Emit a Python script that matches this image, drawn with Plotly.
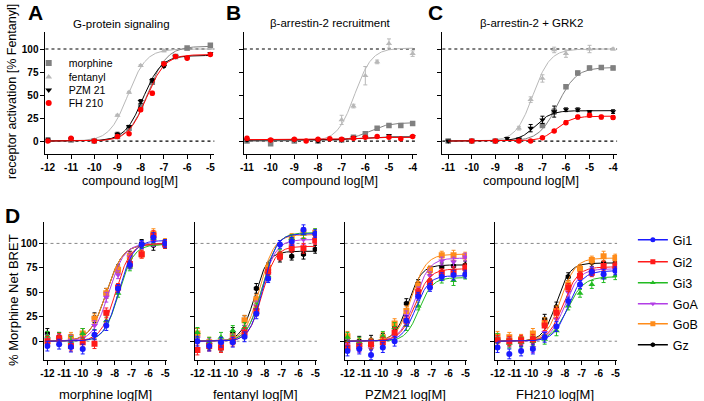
import numpy as np
import plotly.graph_objects as go

FONT = "Liberation Sans, Arial, sans-serif"
W, H = 704, 401

# ---------------- Top row: compounds ----------------
COMPOUNDS = ["morphine", "fentanyl", "PZM 21", "FH 210"]
COMP_COLORS = {"morphine": "#808080", "fentanyl": "#b8b8b8", "PZM 21": "#000000", "FH 210": "#ff0000"}
COMP_SYMBOLS = {"morphine": "square", "fentanyl": "triangle-up", "PZM 21": "triangle-down", "FH 210": "circle"}
DRAW_ORDER = ["fentanyl", "morphine", "PZM 21", "FH 210"]

# Panel A: G-protein signaling  (x, y, err)
A_MORPHINE = ([-12, -11, -10, -9, -8.5, -8, -7.5, -7, -6.5, -6, -5],
              [1, 1, 0, 5, 14, 38, 64, 84, 92, 101, 104],
              [1, 1, 1, 1, 1, 2, 2, 2, 1, 1, 1])
A_FENTANYL = ([-12, -11, -10, -9, -8.5, -8, -7, -6, -5],
              [0, 1, 1, 28, 53, 82, 98, 100, 101],
              [1, 1, 1, 1, 1, 1, 1, 1, 1])
A_PZM21 = ([-12, -11, -10, -9, -8.5, -8, -7.5, -7, -6.5, -6, -5],
           [1, 2, 0, 7.5, 16, 43, 66, 81, 92, 90, 95],
           [2, 1, 1, 2, 1, 2, 2, 1, 1, 1, 1])
A_FH210 = ([-12, -11, -10, -9, -8.5, -8, -7.5, -7, -6.5, -6, -5],
           [0, 3, 0, 5, 8, 34, 52, 84, 92, 90, 94],
           [1, 1, 1, 1, 1, 2, 2, 1, 1, 1, 1])
# fit parameters: bottom, top, logEC50, hill
A_FIT = {"morphine": (0, 103, -7.7, 1.05), "fentanyl": (0, 100, -8.55, 1.1),
         "PZM 21": (0, 93, -7.9, 1.1), "FH 210": (0, 94, -7.75, 1.1)}

# Panel B: beta-arrestin-2 recruitment
B_MORPHINE = ([-11, -10, -9, -8, -7, -6.5, -6, -5.5, -5, -4.5, -4],
              [0, -3, 0, 0, 1, 4, 8, 14, 17, 17, 19],
              [1, 1, 1, 1, 1, 1, 1, 1, 1, 1, 1])
B_FENTANYL = ([-11, -10, -9, -8, -7, -6.5, -6, -5.5, -5, -4],
              [2, 0, 1, 2, 23, 38, 71, 86, 106, 95],
              [2, 1, 1, 1, 5, 2, 10, 2, 5, 3])
B_PZM21 = ([-11, -10, -9, -8, -7, -6.5, -6, -5, -4],
           [1, 1, 1, 0, 1, 4, 4, 6, 5],
           [1, 1, 1, 1, 1, 1, 1, 1, 1])
B_FH210 = ([-11, -10, -9, -8.5, -8, -7.5, -7, -6.5, -6, -5.5, -5, -4.5, -4],
           [3, 1, 2, 0, 2, 2.5, 2, 3, 4, 5, 4, 2.5, 5],
           [2, 1, 1, 1, 1, 1, 1, 1, 1, 1, 1, 1, 1])
B_FIT = {"morphine": (0, 20, -5.9, 1.0), "fentanyl": (0, 101, -6.45, 1.2),
         "PZM 21": (1, 4.5, -6.5, 1.0), "FH 210": (1.5, 4, -6.5, 1.0)}

# Panel C: beta-arrestin-2 + GRK2
C_MORPHINE = ([-11, -10, -9, -8, -7, -6.5, -6, -5.5, -5, -4.5, -4],
              [0, 0, 0, 1, 17, 32, 59, 74, 79.5, 80, 79.5],
              [1, 1, 1, 1, 2, 3, 2, 2, 2, 2, 2])
C_FENTANYL = ([-11, -10, -9, -8, -7.5, -7, -6.5, -6, -5, -4],
              [0, 0, 0, 14, 45, 68, 99, 95, 100, 100],
              [1, 1, 1, 2, 3, 4, 3, 4, 4, 1])
C_PZM21 = ([-11, -10, -9, -8.5, -8, -7.5, -7, -6.5, -6, -5.5, -5, -4],
           [0, 0, 0, 3, 2, 14, 23, 32, 34, 34, 32, 32],
           [1, 1, 1, 1, 1, 4, 4, 6, 2, 2, 1, 2])
C_FH210 = ([-10, -9, -8, -7.5, -7, -6.5, -6, -5.5, -5, -4.5, -4],
           [0, 0, 0, 0, 3.5, 11, 20, 26, 28, 26, 25.5],
           [1, 1, 1, 1, 1, 1, 2, 2, 2, 2, 2])
C_FIT = {"morphine": (0, 80, -6.35, 1.1), "fentanyl": (0, 100, -7.4, 1.2),
         "PZM 21": (0, 33, -7.3, 1.3), "FH 210": (0, 27, -6.4, 1.3)}

TOP_TICKS_A = [-12, -11, -10, -9, -8, -7, -6, -5]
TOP_TICKS_BC = [-11, -10, -9, -8, -7, -6, -5, -4]
TOP_YTICKS = [0, 25, 50, 75, 100]

# ---------------- Bottom row: G proteins ----------------
GPROT = ["Gi1", "Gi2", "Gi3", "GoA", "GoB", "Gz"]
GP_COLORS = {"Gi1": "#1a1aff", "Gi2": "#ff1a1a", "Gi3": "#22bb22", "GoA": "#b23ee6", "GoB": "#ff8c1a", "Gz": "#000000"}
GP_SYMBOLS = {"Gi1": "circle", "Gi2": "square", "Gi3": "triangle-up", "GoA": "triangle-down", "GoB": "square", "Gz": "hexagon"}
D_X = [-12, -11.3, -10.6, -9.9, -9.2, -8.5, -7.8, -7.1, -6.4, -5.7, -5]
D_XTICKS = [-12, -11, -10, -9, -8, -7, -6, -5]

D_MORPHINE = {"Gi1": [-5, -3, -6, -8, 6.5, 16, 54, 78, 99, 106, 100],
              "Gi2": [0, 3, -5, -1, -2.5, 29, 55, 79, 89, 108, 99],
              "Gi3": [5, 4, 0, 8, 7, 21, 49, 76, 99, 105, 100],
              "GoA": [2, 2, 1, 3, 16, 45, 68, 86, 98, 102, 100],
              "GoB": [0, 2, 4, 8, 23, 49, 73, 87, 89, 110, 101],
              "Gz": [8, 4, 2, 8, 24, 49, 74, 88, 100, 98, 99]}
D_MORPHINE_FIT = {"Gi1": (0, 103, -7.75, 1.0), "Gi2": (0, 100, -7.95, 1.0), "Gi3": (0, 99, -7.75, 1.0),
                  "GoA": (0, 100, -8.35, 0.95), "GoB": (0, 99, -8.5, 0.9), "Gz": (0, 99, -8.5, 0.9)}

D_FENTANYL = {"Gi1": [0, -5, -1, -1, 4.5, 28, 64, 99, 102, 114, 110],
              "Gi2": [-9, -5, -6.5, 0, 9, 31, 71, 87, 95, 95, 103],
              "Gi3": [9, -1, 4, 11, 14, 34, 67, 90, 105, 110, 111],
              "GoA": [3, -2, -3, 2, 11, 36, 69, 88, 98, 104, 104],
              "GoB": [8, -1, -1, 5, 21.5, 43, 75, 88, 106, 111, 111],
              "Gz": [8, -4, -5, 9, 21, 54, 76, 85, 87, 89, 94]}
D_FENTANYL_FIT = {"Gi1": (0, 110, -8.1, 1.1), "Gi2": (0, 97, -8.15, 1.1), "Gi3": (0, 111, -8.15, 1.0),
                  "GoA": (0, 104, -8.2, 1.0), "GoB": (0, 109, -8.3, 1.0), "Gz": (0, 92, -8.6, 1.1)}

D_PZM21 = {"Gi1": [-10, -8, -14, -6.5, 0, 21, 46, 55, 66, 67.6, 68.6],
           "Gi2": [-6.5, -5, -3, -1, 9, 21, 50, 60, 70, 71, 75],
           "Gi3": [4, -1, -3, 5, 14, 16, 36, 59, 63.5, 62, 67.6],
           "GoA": [-3, -6.5, -8, -1, 5, 26, 51.5, 67, 82, 81, 86],
           "GoB": [5, -2, -2, 4, 18, 31, 57, 73, 88, 88, 87],
           "Gz": [0, 0, 1, 3, 14, 38.5, 59, 72, 76, 77, 78]}
D_PZM21_FIT = {"Gi1": (0, 67, -7.95, 1.1), "Gi2": (0, 74, -8.0, 1.0), "Gi3": (0, 65, -7.75, 1.1),
               "GoA": (0, 85, -8.0, 1.0), "GoB": (0, 89, -8.2, 1.0), "Gz": (0, 78, -8.4, 1.1)}

D_FH210 = {"Gi1": [-6.5, -13, -10, -8, 4, 15, 41, 58, 71, 68.6, 72],
           "Gi2": [1, 0, 1, 2, 16, 29, 55, 67, 70, 77, 77],
           "Gi3": [3, -2, -1, 0, 2, 10.6, 36, 49, 58, 65, 67],
           "GoA": [0, -1, -3, -6.5, 9, 22.5, 50, 63, 72, 73, 74],
           "GoB": [5, 4, 2, 8, 19, 31, 58, 74, 83, 87, 85],
           "Gz": [0, 1, 0, 0, 22.5, 35, 66, 74, 80.5, 80, 80]}
D_FH210_FIT = {"Gi1": (0, 72, -7.8, 1.0), "Gi2": (0, 76, -8.1, 1.0), "Gi3": (0, 66, -7.85, 0.9),
               "GoA": (0, 74, -8.0, 1.0), "GoB": (0, 85, -8.25, 1.0), "Gz": (0, 80, -8.5, 1.1)}

D_ERR = [5, 5, 5, 5, 5, 5, 4, 4, 4, 5, 4]

# ---------------- helpers ----------------
def hill(x, fit):
    b, t, ec, h = fit
    return b + (t - b) / (1 + 10 ** ((ec - x) * h))


def px_x(p):
    return p / W


def px_y(p):
    return 1 - p / H


fig = go.Figure()


def add_set(xa, ya, x, y, err, color, symbol, size, fit, xr):
    xc = np.linspace(xr[0], xr[1], 300)
    fig.add_trace(go.Scatter(x=xc, y=hill(xc, fit), mode="lines", xaxis=xa, yaxis=ya,
                             line=dict(color=color, width=1), showlegend=False, hoverinfo="skip"))
    fig.add_trace(go.Scatter(x=x, y=y, mode="markers", xaxis=xa, yaxis=ya,
                             marker=dict(color=color, symbol=symbol, size=size, line=dict(width=0)),
                             error_y=dict(type="data", array=err, color=color, thickness=1, width=2),
                             showlegend=False))


top_panels = [("x", "y", {"morphine": A_MORPHINE, "fentanyl": A_FENTANYL, "PZM 21": A_PZM21, "FH 210": A_FH210}, A_FIT, (-12, -5)),
              ("x2", "y2", {"morphine": B_MORPHINE, "fentanyl": B_FENTANYL, "PZM 21": B_PZM21, "FH 210": B_FH210}, B_FIT, (-11, -4)),
              ("x3", "y3", {"morphine": C_MORPHINE, "fentanyl": C_FENTANYL, "PZM 21": C_PZM21, "FH 210": C_FH210}, C_FIT, (-11, -4))]

for xa, ya, data, fits, xr in top_panels:
    for comp in DRAW_ORDER:
        xs, ys, es = data[comp]
        add_set(xa, ya, xs, ys, es, COMP_COLORS[comp], COMP_SYMBOLS[comp], 5.5, fits[comp], xr)

bottom_panels = [("x4", "y4", D_MORPHINE, D_MORPHINE_FIT),
                 ("x5", "y5", D_FENTANYL, D_FENTANYL_FIT),
                 ("x6", "y6", D_PZM21, D_PZM21_FIT),
                 ("x7", "y7", D_FH210, D_FH210_FIT)]
for xa, ya, data, fits in bottom_panels:
    for gp in reversed(GPROT):
        add_set(xa, ya, D_X, data[gp], D_ERR, GP_COLORS[gp], GP_SYMBOLS[gp], 6, fits[gp], (-12, -5))

# legend entries
A_LEG_Y = [63, 77, 90, 103]
for i, comp in enumerate(COMPOUNDS):
    fig.add_trace(go.Scatter(x=[None], y=[None], mode="markers", name=comp,
                             legend="legend" if i == 0 else f"legend{i + 1}",
                             marker=dict(color=COMP_COLORS[comp], symbol=COMP_SYMBOLS[comp], size=6)))
D_LEG_Y = [240, 262, 283, 304, 324, 345]
for i, gp in enumerate(GPROT):
    fig.add_trace(go.Scatter(x=[None], y=[None], mode="lines+markers", name=gp,
                             legend=f"legend{i + 5}",
                             line=dict(color=GP_COLORS[gp], width=1.5),
                             marker=dict(color=GP_COLORS[gp], symbol=GP_SYMBOLS[gp], size=5)))

layout = dict(width=W, height=H, margin=dict(l=0, r=0, t=0, b=0),
              paper_bgcolor="white", plot_bgcolor="white",
              font=dict(family=FONT, color="black"), showlegend=True)

for i, y in enumerate(A_LEG_Y):
    key = "legend" if i == 0 else f"legend{i + 1}"
    layout[key] = dict(x=px_x(24), y=px_y(y), xanchor="left", yanchor="middle",
                       bgcolor="rgba(0,0,0,0)", borderwidth=0, font=dict(size=10.5, family=FONT),
                       itemclick=False, itemdoubleclick=False)
for i, y in enumerate(D_LEG_Y):
    layout[f"legend{i + 5}"] = dict(x=px_x(636), y=px_y(y), xanchor="left", yanchor="middle",
                                    bgcolor="rgba(0,0,0,0)", borderwidth=0, font=dict(size=12.5, family=FONT),
                                    itemclick=False, itemdoubleclick=False)

TICKFONT = dict(family=FONT, size=10, weight="bold", color="black")


def xaxis(dom, rng, ticks, anchor):
    return dict(domain=[px_x(dom[0]), px_x(dom[1])], range=rng, anchor=anchor,
                tickmode="array", tickvals=ticks, ticktext=[str(t) for t in ticks],
                showline=True, linecolor="black", linewidth=1, ticks="outside", ticklen=4,
                tickwidth=1, tickcolor="black", showgrid=False, zeroline=False, tickfont=TICKFONT)


def yaxis(dom, rng, anchor, labels):
    return dict(domain=[px_y(dom[1]), px_y(dom[0])], range=rng, anchor=anchor,
                tickmode="array", tickvals=TOP_YTICKS, showticklabels=labels,
                showline=True, linecolor="black", linewidth=1, ticks="outside", ticklen=4,
                tickwidth=1, tickcolor="black", showgrid=False, zeroline=False, tickfont=TICKFONT)


TOP_Y = (32, 154)
TOP_YR = [-14.1, 118.5]
layout["xaxis"] = xaxis((41, 212), [-12.1, -4.83], TOP_TICKS_A, "y")
layout["yaxis"] = yaxis(TOP_Y, TOP_YR, "x", True)
layout["xaxis2"] = xaxis((242, 417), [-11.13, -3.83], TOP_TICKS_BC, "y2")
layout["yaxis2"] = yaxis(TOP_Y, TOP_YR, "x2", False)
layout["xaxis3"] = xaxis((443, 620), [-11.25, -3.83], TOP_TICKS_BC, "y3")
layout["yaxis3"] = yaxis(TOP_Y, TOP_YR, "x3", False)

BOT_Y = (222, 360)
BOT_YR = [-19.2, 121.9]
D_DOMS = [(40, 164), (192, 316), (344, 468), (496, 620)]
for k, dom in enumerate(D_DOMS):
    n = k + 4
    layout[f"xaxis{n}"] = xaxis(dom, [-12.17, -4.9], D_XTICKS, f"y{n}")
    layout[f"yaxis{n}"] = yaxis(BOT_Y, BOT_YR, f"x{n}", k == 0)

# dotted reference lines
shapes = []
for n in ["", "2", "3"]:
    for v in [0, 100]:
        shapes.append(dict(type="line", xref=f"x{n} domain", yref=f"y{n}", x0=0, x1=1, y0=v, y1=v,
                           line=dict(color="black", width=1.2, dash="dot"), layer="below"))
for n in ["4", "5", "6", "7"]:
    for v in [0, 100]:
        shapes.append(dict(type="line", xref=f"x{n} domain", yref=f"y{n}", x0=0, x1=1, y0=v, y1=v,
                           line=dict(color="#888888", width=1, dash="dot"), layer="below"))
layout["shapes"] = shapes

ann = []


def text(t, x, y, size, bold=False, angle=0):
    ann.append(dict(text=t, x=px_x(x), y=px_y(y), xref="paper", yref="paper", showarrow=False,
                    xanchor="center", yanchor="middle", textangle=angle,
                    font=dict(family=FONT, size=size, color="black", weight="bold" if bold else "normal")))


text("A", 31, 12, 21, True)
text("B", 231, 12, 21, True)
text("C", 436, 12, 21, True)
text("D", 8, 215, 21, True)
text("G-protein signaling", 118, 24, 11.5)
text("β-arrestin-2 recruitment", 330, 23, 11.5)
text("β-arrestin-2 + GRK2", 533, 23, 11.5)
text("compound log[M]", 127, 181, 12.5)
text("compound log[M]", 329, 181, 12.5)
text("compound log[M]", 533, 181, 12.5)
text("receptor activation [% Fentanyl]", 7, 91, 12.5, angle=-90)
text("% Morphine Net BRET", 8, 300, 13, angle=-90)
text("morphine log[M]", 102, 394, 13)
text("fentanyl log[M]", 254, 394, 13)
text("PZM21 log[M]", 406, 394, 13)
text("FH210 log[M]", 557, 394, 13)
layout["annotations"] = ann

fig.update_layout(**layout)
fig.write_html("out.html", config={"displayModeBar": False, "staticPlot": True},
               post_script="document.body.style.margin='0';document.body.style.padding='0';"
                           "document.body.style.overflow='hidden';")
